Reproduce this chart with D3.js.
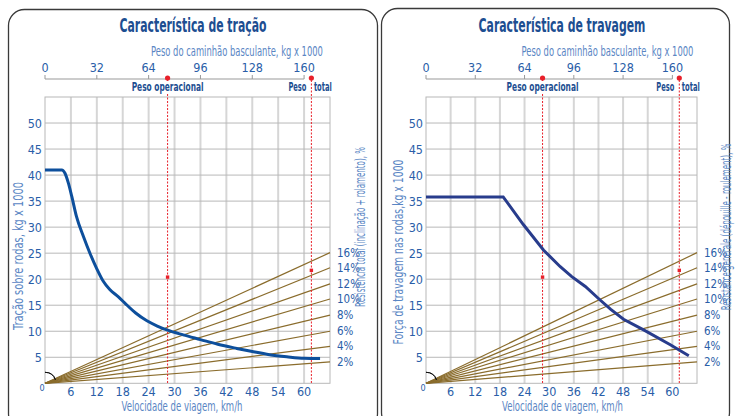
<!DOCTYPE html>
<html><head><meta charset="utf-8">
<script src="https://cdn.jsdelivr.net/npm/d3@7"></script>
<style>
html,body{margin:0;padding:0;background:#fff;}
svg text{font-family:"Liberation Sans Narrow","DejaVu Sans Condensed","Roboto Condensed",sans-serif;}
</style></head>
<body>
<svg id="c" width="735" height="416"></svg>
<script>
// ---- data ----
const speedTicks = [6,12,18,24,30,36,42,48,54,60];
const forceTicks = [5,10,15,20,25,30,35,40,45,50];
const weightTicks = [0,32,64,96,128,160];
const gradeLabels = ["2%","4%","6%","8%","10%","12%","14%","16%"];
const gradeEndValues = [4.1,7.1,10.0,13.1,16.2,19.1,22.2,25.1]; // force at 66 km/h
const tractionSpeed = [0,3.9,4.6,5.4,6.2,7.3,8.9,10.5,12.0,13.5,15,17,18.5,21,23.6,26,28.4,32,36,40,44.4,48,52,56,60,63.7];
const tractionForce = [41,41,40.4,38.5,35.9,32,28.2,24.8,22.0,19.6,18,16.6,15.4,13.5,12,11,10.2,9.3,8.4,7.5,6.7,6.1,5.5,5.1,4.8,4.75];
const brakeSpeed = [0,18.8,23.7,28.6,32.7,35.5,38.8,42.4,45,48.1,53,59.5,64];
const brakeForce = [35.8,35.8,30.5,25.6,22.4,20.5,18.6,16.0,14.2,12.3,10.25,7.4,5.3];
const markerWeights = [75.7,164.5];       // Peso operacional, Peso total (kg x 1000)
const markerForces = [20.4,21.7];

const svg = d3.select("#c");
const blue = "#2a5ea8", lightBlue = "#5a86c4", titleBlue = "#1d4e91", red = "#e8202a", brown = "#8a6c2c";

// text squeezed horizontally to a target width (condensed look)
function fitText(parent, txt, px, py, rot, anchor, size, weight, color, target){
  const gg = parent.append("g").attr("transform",`translate(${px},${py}) rotate(${rot})`);
  const t = gg.append("text").attr("x",0).attr("y",0).attr("text-anchor",anchor)
    .attr("font-size",size).attr("font-weight",weight).attr("fill",color).text(txt);
  const len = t.node().getComputedTextLength();
  const k = Math.min(1, target/len);
  t.attr("transform",`scale(${k},1)`);
  return t;
}

// panel frames
svg.append("rect").attr("x",8.5).attr("y",9.5).attr("width",369).attr("height",420).attr("rx",16)
  .attr("fill","none").attr("stroke","#3a3a3a").attr("stroke-width",1.3);
svg.append("rect").attr("x",381.5).attr("y",8.5).attr("width",348).attr("height",420).attr("rx",16)
  .attr("fill","none").attr("stroke","#3a3a3a").attr("stroke-width",1.3);

function panel(o){
  const g = svg.append("g");
  const x = d3.scaleLinear().domain([0,66]).range([o.x0,o.x1]);
  const y = d3.scaleLinear().domain([0,55]).range([383.3,97]);
  const w = d3.scaleLinear().domain([0,160]).range([x(0),x(60)]);
  // grid
  g.selectAll(".vg").data(speedTicks).join("line")
    .attr("x1",d=>x(d)).attr("x2",d=>x(d)).attr("y1",y(0)).attr("y2",y(55))
    .attr("stroke","#d6d6d6").attr("stroke-width",2);
  g.selectAll(".hg").data(forceTicks).join("line")
    .attr("x1",x(0)).attr("x2",x(66)).attr("y1",d=>y(d)).attr("y2",d=>y(d))
    .attr("stroke","#b8b8b8").attr("stroke-width",1);
  g.append("rect").attr("x",x(0)).attr("y",y(55)).attr("width",x(66)-x(0)).attr("height",y(0)-y(55))
    .attr("fill","none").attr("stroke","#b8b8b8").attr("stroke-width",1);
  // fan lines
  g.selectAll(".fan").data(gradeEndValues).join("line")
    .attr("x1",x(0)).attr("y1",y(0)).attr("x2",x(66)).attr("y2",d=>y(d))
    .attr("stroke",brown).attr("stroke-width",1.2);
  g.selectAll(".pl").data(gradeLabels).join("text")
    .attr("x",x(66)+7).attr("y",(d,i)=>y(gradeEndValues[i])+4)
    .attr("font-size",11.5).attr("fill",blue).text(d=>d);
  // origin arc
  const arc = d3.arc().innerRadius(11).outerRadius(11).startAngle(0).endAngle(1.25);
  g.append("path").attr("d",arc()).attr("transform",`translate(${x(0)},${y(0)})`)
    .attr("fill","none").attr("stroke","#111").attr("stroke-width",1);
  // axes labels
  g.selectAll(".yl").data(forceTicks).join("text")
    .attr("x",x(0)-3).attr("y",d=>y(d)+4.5).attr("text-anchor","end")
    .attr("font-size",12.5).attr("fill",blue).text(d=>d);
  g.append("text").attr("x",x(0)-3).attr("y",y(0)+8).attr("text-anchor","middle")
    .attr("font-size",9).attr("fill",blue).text("0");
  g.selectAll(".xl").data(speedTicks).join("text")
    .attr("x",d=>x(d)).attr("y",395.5).attr("text-anchor","middle")
    .attr("font-size",12.5).attr("fill",blue).text(d=>d);
  fitText(g,"Velocidade de viagem, km/h",o.xTitleX,411,0,"middle",13.5,"normal",lightBlue,121);
  // top weight axis
  g.append("line").attr("x1",w(0)).attr("x2",w(160)).attr("y1",79).attr("y2",79).attr("stroke","#999");
  g.selectAll(".wt").data(weightTicks).join("line")
    .attr("x1",d=>w(d)).attr("x2",d=>w(d)).attr("y1",75).attr("y2",79).attr("stroke","#999");
  g.selectAll(".wl").data(weightTicks).join("text")
    .attr("x",d=>w(d)).attr("y",72).attr("text-anchor","middle")
    .attr("font-size",12.5).attr("fill",blue).text(d=>d);
  fitText(g,"Peso do caminhão basculante, kg x 1000",o.wTitleX,56,0,"middle",14.5,"normal",lightBlue,172);
  // title
  fitText(g,o.title,o.titleX,32,0,"middle",19,"bold",titleBlue,o.titleLen);
  // y titles
  fitText(g,o.yTitle,o.yTitleX,o.yTitleY,-90,"middle",14,"normal",lightBlue,o.yTitleLen);
  fitText(g,o.rTitle,o.rTitleX,o.rTitleY,-90,"middle",14.5,"normal",lightBlue,o.rTitleLen);
  // markers
  markerWeights.forEach((mw,i)=>{
    const mx = w(mw);
    g.append("line").attr("x1",mx).attr("x2",mx).attr("y1",80).attr("y2",y(0))
      .attr("stroke",red).attr("stroke-width",1).attr("stroke-dasharray","2,1.5");
    g.append("circle").attr("cx",mx).attr("cy",78).attr("r",2.6).attr("fill",red);
    g.append("rect").attr("x",mx-1.7).attr("y",y(markerForces[i])-1.7).attr("width",3.4).attr("height",3.4).attr("fill",red);
  });
  const opX = w(markerWeights[0]), totX = w(markerWeights[1]);
  g.append("rect").attr("x",opX-37).attr("y",81).attr("width",74).attr("height",12).attr("fill","#fff");
  fitText(g,"Peso operacional",opX,91,0,"middle",11.5,"bold",titleBlue,72);
  fitText(g,"Peso",totX-5,91,0,"end",11.5,"bold",titleBlue,18);
  fitText(g,"total",totX+2.5,91,0,"start",11.5,"bold",titleBlue,18);
  // curve
  const pts = o.sx.map((s,i)=>[s,o.sy[i]]);
  g.append("path").datum(pts)
    .attr("d",d3.line().x(d=>x(d[0])).y(d=>y(d[1])).curve(o.curve))
    .attr("fill","none").attr("stroke",o.color).attr("stroke-width",3).attr("stroke-linecap","butt");
}

panel({x0:45,x1:330,title:"Característica de tração",titleX:193,titleLen:147,wTitleX:237,xTitleX:182,
  yTitle:"Tração sobre rodas, kg x 1000",yTitleX:23,yTitleY:256,yTitleLen:148,
  rTitle:"Resistência total (inclinação + rolamento), %",rTitleX:365,rTitleY:227,rTitleLen:160,
  sx:tractionSpeed,sy:tractionForce,curve:d3.curveMonotoneX,color:"#0d4f9c"});
panel({x0:426,x1:697,title:"Característica de travagem",titleX:562,titleLen:167,wTitleX:607.5,xTitleX:562.5,
  yTitle:"Força de travagem nas rodas,kg x 1000",yTitleX:403,yTitleY:252,yTitleLen:185,
  rTitle:"Résistance générale (dépouille - roulement), %",rTitleX:730.5,rTitleY:227,rTitleLen:167,
  sx:brakeSpeed,sy:brakeForce,curve:d3.curveLinear,color:"#283c8c"});
</script>
</body></html>
